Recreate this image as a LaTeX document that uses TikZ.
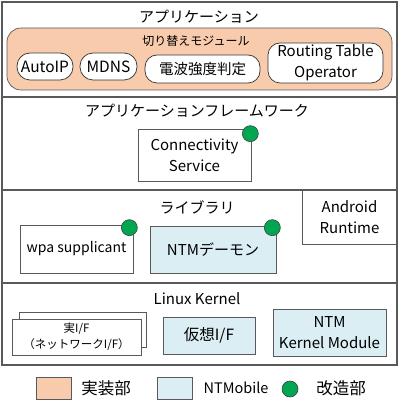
\documentclass[tikz,border=0pt]{standalone}
\usepackage{fontspec}
\setmainfont{Noto Sans CJK JP}
\usetikzlibrary{positioning}
\definecolor{implfill}{HTML}{F8CBAD}
\definecolor{ntmfill}{HTML}{DAEEF3}
\definecolor{modgreen}{HTML}{00A650}
\definecolor{linegray}{HTML}{595959}
\newcommand{\fs}[1]{\fontsize{#1}{1.4\dimexpr#1pt\relax}\selectfont}

\begin{document}
\begin{tikzpicture}[x=1pt,y=-1pt,layer/.style={rectangle,draw=linegray,line width=1.1pt,inner sep=0pt},box/.style={rectangle,draw=linegray,line width=0.7pt,inner sep=0pt,align=center,font=\fs{15}},pill/.style={box,draw=black!80,rounded corners=13pt,fill=white},ntm/.style={box,fill=ntmfill},title/.style={inner sep=0pt,font=\fs{15}},modmark/.style={circle,fill=modgreen,draw=black!75,line width=0.6pt,minimum size=16pt,inner sep=0pt}]
\useasboundingbox (0,0) rectangle (400,411);
% layers
\node[layer,minimum width=395pt,minimum height=95pt] (app) at (199.5,49.5) {};
\node[layer,minimum width=395pt,minimum height=93pt] (fw) at (199.5,143.5) {};
\node[layer,minimum width=395pt,minimum height=93pt] (lib) at (199.5,236.5) {};
\node[layer,minimum width=395pt,minimum height=82pt] (kern) at (199.5,324) {};
% application
\node[title] (apptitle) at (199,17) {アプリケーション};
\node[box,fill=implfill,rounded corners=14pt,minimum width=385pt,minimum height=62pt] (sw) at (199.5,59) {};
\node[title,font=\fs{12}] (swtitle) at (196,41) {切り替えモジュール};
\node[pill,minimum width=56pt,minimum height=27pt,font=\fs{15.5}] (autoip) at (45,66.5) {AutoIP};
\node[pill,minimum width=57pt,minimum height=27pt,font=\fs{15.5}] (mdns) at (108.5,66.5) {MDNS};
\node[pill,rounded corners=12pt,minimum width=115pt,minimum height=28pt,font=\fs{14.5}] (radio) at (202.5,69) {電波強度判定};
\node[pill,rounded corners=12pt,minimum width=115pt,minimum height=40pt] (rto) at (325.5,63) {Routing Table\\Operator};
% framework
\node[title] (fwtitle) at (197,111) {アプリケーションフレームワーク};
\node[box,minimum width=113pt,minimum height=52pt] (cs) at (194.5,155) {Connectivity\\Service};
\node[modmark] (csmod) at ([shift={(-1,5)}]cs.north east) {};
% libraries
\node[title] (libtitle) at (197,207) {ライブラリ};
\node[box,minimum width=95pt,minimum height=54pt] (art) at (349.5,217) {Android\\Runtime};
\node[box,minimum width=113pt,minimum height=48pt,font=\fs{14}] (wpa) at (76.5,249) {wpa supplicant};
\node[ntm,minimum width=126pt,minimum height=47pt,font=\fs{15}] (ntmd) at (213,249.5) {NTMデーモン};
\node[modmark] (wpamod) at ([shift={(-4,3)}]wpa.north east) {};
\node[modmark] (ntmdmod) at ([shift={(-4,2)}]ntmd.north east) {};
% kernel
\node[title] (kerntitle) at (197,299) {Linux Kernel};
\node[box,fill=white,minimum width=127pt,minimum height=35pt] (realifb) at (82.5,329.5) {};
\node[box,fill=white,minimum width=129pt,minimum height=36pt,font=\fs{11.5}] (realif) at (76.5,337) {実I/F\\（ネットワークI/F）};
\node[ntm,minimum width=92pt,minimum height=37pt,font=\fs{15.5}] (vif) at (209,335.5) {仮想I/F};
\node[ntm,minimum width=113pt,minimum height=47pt] (ntmk) at (329.5,332.5) {NTM\\Kernel Module};
% legend
\node[box,fill=implfill,minimum width=35pt,minimum height=22pt] (legimpl) at (53.5,388) {};
\node[title,font=\fs{16.5}] (legimpltxt) at (106,388) {実装部};
\node[ntm,minimum width=35pt,minimum height=22pt] (legntm) at (174.5,388) {};
\node[title,font=\fs{14.5}] (legntmtxt) at (236,388) {NTMobile};
\node[modmark] (legmod) at (290,389) {};
\node[title,font=\fs{16.5}] (legmodtxt) at (341,388) {改造部};
\end{tikzpicture}
\end{document}
